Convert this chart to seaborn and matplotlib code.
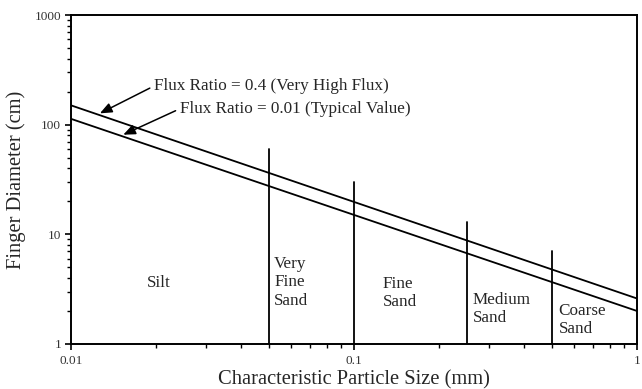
import numpy as np
import pandas as pd
import matplotlib
matplotlib.use("Agg")
import matplotlib.pyplot as plt
from matplotlib.ticker import FixedLocator, FixedFormatter, LogLocator, NullFormatter
import seaborn as sns

# Finger diameter vs. characteristic particle size, two flux ratios
particle_size = [0.01, 1.0]
diam_high_flux = [150.0, 2.6]      # flux ratio 0.4
diam_typical = [113.0, 2.0]        # flux ratio 0.01

# Grain-size class boundaries and the height of each boundary line
boundary_size = [0.05, 0.1, 0.25, 0.5]
boundary_top = [60.0, 30.0, 13.0, 7.0]

zone_labels = ["Silt", "Very\nFine\nSand", "Fine\nSand", "Medium\nSand", "Coarse\nSand"]
zone_x = [0.0205, 0.0522, 0.126, 0.262, 0.528]
zone_y = [3.6, 3.66, 2.9, 2.08, 1.65]
zone_ha = ["center", "left", "left", "left", "left"]

x_ticks = [0.01, 0.1, 1]
x_tick_labels = ["0.01", "0.1", "1"]
y_ticks = [1, 10, 100, 1000]
y_tick_labels = ["1", "10", "100", "1000"]

sns.set_style("ticks")
plt.rcParams["font.family"] = ["Liberation Serif", "DejaVu Serif"]

df = pd.DataFrame({
    "size": particle_size * 2,
    "diameter": diam_high_flux + diam_typical,
    "series": ["high"] * 2 + ["typical"] * 2,
})

fig = plt.figure(figsize=(6.42, 3.89), dpi=100)
ax = fig.add_axes([71 / 642, 1 - 344 / 389, (637 - 71) / 642, (344 - 15) / 389])

sns.lineplot(data=df, x="size", y="diameter", units="series", estimator=None,
             color="black", lw=1.3, ax=ax, legend=False)

ax.set_xscale("log")
ax.set_yscale("log")
ax.set_xlim(0.01, 1)
ax.set_ylim(1, 1000)

for xb, top in zip(boundary_size, boundary_top):
    ax.plot([xb, xb], [1, top], color="black", lw=1.3)

for lab, xx, yy, ha in zip(zone_labels, zone_x, zone_y, zone_ha):
    ax.text(xx, yy, lab, ha=ha, va="center", fontsize=12.3, linespacing=1.2)

# Arrow annotations pointing at each line
def on_line(x, y0, y1):
    t = (np.log10(x) - np.log10(particle_size[0])) / (np.log10(particle_size[1]) - np.log10(particle_size[0]))
    return 10 ** (np.log10(y0) + t * (np.log10(y1) - np.log10(y0)))

arrow = dict(arrowstyle="-|>,head_length=0.6,head_width=0.25", color="black", lw=1.1,
             mutation_scale=12, shrinkA=1, shrinkB=0, relpos=(0, 0.5))
xa = 0.01265
ax.annotate("Flux Ratio = 0.4 (Very High Flux)",
            xy=(xa, on_line(xa, *diam_high_flux) * 1.04), xytext=(0.0197, 226),
            fontsize=12.3, va="center", ha="left", arrowprops=arrow)
xb2 = 0.0153
ax.annotate("Flux Ratio = 0.01 (Typical Value)",
            xy=(xb2, on_line(xb2, *diam_typical) * 1.04), xytext=(0.0243, 140),
            fontsize=12.3, va="center", ha="left", arrowprops=arrow)

ax.xaxis.set_major_locator(FixedLocator(x_ticks))
ax.xaxis.set_major_formatter(FixedFormatter(x_tick_labels))
ax.yaxis.set_major_locator(FixedLocator(y_ticks))
ax.yaxis.set_major_formatter(FixedFormatter(y_tick_labels))
ax.xaxis.set_minor_locator(LogLocator(base=10, subs=np.arange(2, 10)))
ax.yaxis.set_minor_locator(LogLocator(base=10, subs=np.arange(2, 10)))
ax.xaxis.set_minor_formatter(NullFormatter())
ax.yaxis.set_minor_formatter(NullFormatter())

ax.tick_params(which="major", length=4, width=1.2, labelsize=9.5, colors="black", labelcolor="#333333")
ax.tick_params(which="minor", length=3, width=1.0, colors="black")
ax.tick_params(axis="x", pad=4)
ax.tick_params(axis="y", pad=3)

for sp in ax.spines.values():
    sp.set_visible(True)
    sp.set_linewidth(1.4)
    sp.set_color("black")

ax.set_xlabel("Characteristic Particle Size (mm)", fontsize=14.8, labelpad=2)
ax.set_ylabel("Finger Diameter (cm)", fontsize=14.8, labelpad=6)

fig.savefig("out.png", dpi=100)
